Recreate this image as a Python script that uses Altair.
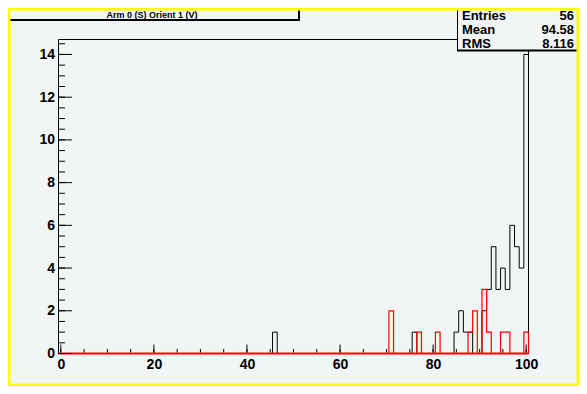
import altair as alt
import pandas as pd

# ---------------- data ----------------
bin_centers = list(range(0, 101))
black_bins = [46, 76, 85, 86, 87, 88, 91, 92, 93, 94, 95, 96, 97, 98, 99, 100]
black_counts = [1, 1, 1, 2, 1, 1, 2, 3, 5, 3, 4, 3, 6, 5, 4, 14]
red_bins = [71, 77, 81, 88, 89, 91, 92, 95, 96, 100]
red_counts = [2, 1, 1, 1, 2, 3, 1, 1, 1, 1]

x_major = [0, 20, 40, 60, 80, 100]
x_minor = list(range(0, 101, 5))
y_major = [0, 2, 4, 6, 8, 10, 12, 14]
y_minor = [k * 0.5 for k in range(0, 30)]

title_text = "Arm 0 (S) Orient 1 (V)"
stat_names = ["Entries", "Mean", "RMS"]
stat_values = ["56", "94.58", "8.116"]

# ---------------- layout / style ----------------
X_DOMAIN = [-0.5, 100.5]
Y_DOMAIN = [0, 14.7]
W, H = 470, 314
BG = "#f2f5f6"
FONT = "Liberation Sans"
RED = "#ff0000"


def step_frame(bins, counts):
    full = dict.fromkeys(bin_centers, 0)
    full.update(zip(bins, counts))
    last = bin_centers[-1]
    edges = [c - 0.5 for c in bin_centers] + [last + 0.5, last + 0.5]
    vals = [full[c] for c in bin_centers] + [full[last], 0]
    return pd.DataFrame({"edge": edges, "count": vals, "i": list(range(len(edges)))})


xs = alt.Scale(domain=X_DOMAIN, nice=False, zero=False)
ys = alt.Scale(domain=Y_DOMAIN, nice=False, zero=False)
one = pd.DataFrame({"a": [0]})

axis_common = dict(ticks=False, tickSize=0, domain=False, grid=False,
                   labelFont=FONT, labelFontSize=14, labelFontWeight="bold",
                   labelColor="black", title=None, labelFlush=False,
                   labelOverlap=False, labelPadding=4)
AX = alt.Axis(values=x_major, **axis_common)
AY = alt.Axis(values=y_major, **axis_common)


def X(field):
    return alt.X(field, scale=xs, axis=AX)


def Y(field):
    return alt.Y(field, scale=ys, axis=AY)


def rule(x0, x1, y0, y1):
    return alt.Chart(one).mark_rule(color="black", strokeWidth=1).encode(
        x=alt.value(x0), x2=alt.value(x1), y=alt.value(y0), y2=alt.value(y1))


# frame: left axis line, top and right border
frame = [rule(0, 0, 0, H), rule(0, W, 0, 0), rule(W, W, 0, H)]

black_df = step_frame(black_bins, black_counts)
red_df = step_frame(red_bins, red_counts)

black = alt.Chart(black_df).mark_line(
    interpolate="step-after", color="black", strokeWidth=1).encode(
    x=X("edge:Q"), y=Y("count:Q"), order=alt.Order("i:Q"))

red = alt.Chart(red_df).mark_line(
    interpolate="step-after", color=RED, strokeWidth=1.2).encode(
    x=X("edge:Q"), y=Y("count:Q"), order=alt.Order("i:Q"))

# red histogram's zero baseline (drawn by ROOT along the whole range)
red_base = alt.Chart(pd.DataFrame({"x0": [X_DOMAIN[0]], "x1": [X_DOMAIN[1]], "y0": [0]})).mark_rule(
    color=RED, strokeWidth=2).encode(
    x=X("x0:Q"), x2="x1:Q", y=Y("y0:Q"))

x_minor_t = alt.Chart(pd.DataFrame({"v": x_minor})).mark_rule(color="black", strokeWidth=1).encode(
    x=X("v:Q"), y=alt.value(H - 1), y2=alt.value(H - 4.5))
x_major_t = alt.Chart(pd.DataFrame({"v": x_major})).mark_rule(color="black", strokeWidth=1).encode(
    x=X("v:Q"), y=alt.value(H - 1), y2=alt.value(H - 9))
y_minor_t = alt.Chart(pd.DataFrame({"v": y_minor})).mark_rule(color="black", strokeWidth=1).encode(
    y=Y("v:Q"), x=alt.value(0), x2=alt.value(6.5))
y_major_t = alt.Chart(pd.DataFrame({"v": y_major})).mark_rule(color="black", strokeWidth=1).encode(
    y=Y("v:Q"), x=alt.value(0), x2=alt.value(13.5))


def box(x0, x1, y0, y1):
    outer = alt.Chart(one).mark_rect(color="black").encode(
        x=alt.value(x0), x2=alt.value(x1), y=alt.value(y0), y2=alt.value(y1))
    inner = alt.Chart(one).mark_rect(color=BG).encode(
        x=alt.value(x0 + 1), x2=alt.value(x1 - 2), y=alt.value(y0), y2=alt.value(y1 - 2))
    return [outer, inner]


# title box (top left)
title_layers = box(-50, 241.5, -45, -18.5) + [
    alt.Chart(pd.DataFrame({"t": [title_text]})).mark_text(
        font=FONT, fontSize=9, fontWeight="bold", color="black",
        align="center", baseline="middle").encode(
        text="t:N", x=alt.value(93.5), y=alt.value(-25))
]

# stats box (top right)
stat_layers = box(398.5, 521, -45, 12)
for i, (nm, vl) in enumerate(zip(stat_names, stat_values)):
    yy = -23.5 + 14 * i
    stat_layers.append(alt.Chart(pd.DataFrame({"t": [nm]})).mark_text(
        font=FONT, fontSize=13, fontWeight="bold", color="black",
        align="left", baseline="middle").encode(
        text="t:N", x=alt.value(403.5), y=alt.value(yy)))
    stat_layers.append(alt.Chart(pd.DataFrame({"t": [vl]})).mark_text(
        font=FONT, fontSize=13, fontWeight="bold", color="black",
        align="right", baseline="middle").encode(
        text="t:N", x=alt.value(515.5), y=alt.value(yy)))

border = alt.Chart(one).mark_rect(filled=False, stroke="#ffff00", strokeWidth=5).encode(
    x=alt.value(-50.5), x2=alt.value(520.5), y=alt.value(-31.5), y2=alt.value(346.5))

chart = alt.layer(
    *frame, black, red, red_base, x_minor_t, x_major_t, y_minor_t, y_major_t,
    *title_layers, *stat_layers, border
).properties(
    width=W, height=H,
    padding={"left": 50.5, "top": 31.5, "right": 50.5, "bottom": 32.5},
    autosize=alt.AutoSizeParams(type="none"),
    background=BG,
).configure_view(strokeWidth=0)

chart.save("out.html", embed_options={"renderer": "svg", "actions": False})
